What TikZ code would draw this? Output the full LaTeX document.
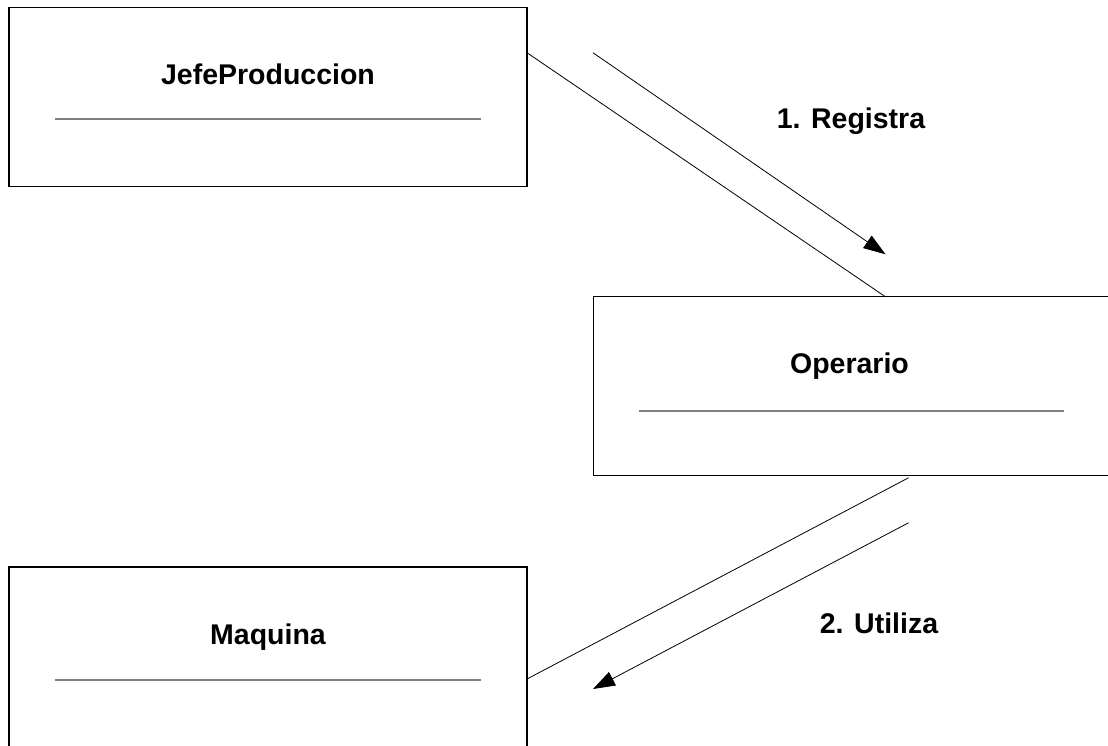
\documentclass[tikz,border=0pt]{standalone}
\usepackage{fontspec}
\setmainfont{Liberation Sans}
\usetikzlibrary{positioning, arrows.meta}
\tikzset{
	clase/.style={
		rectangle,
		draw,
		line width=1.1pt,
		minimum width=518pt,
		minimum height=179pt,
		inner sep=0pt,
		outer sep=0pt,
	},
	titulo/.style={
		font=\bfseries\fontsize{28.5}{34}\selectfont,
		anchor=base,
		inner sep=0pt,
	},
	sep/.style={
		draw=black!50,
		line width=1.6pt,
	},
	assoc/.style={
		line width=0.8pt,
	},
	msg/.style={
		line width=0.8pt,
		-{Triangle[length=22pt,width=15pt]},
	},
}

\begin{document}
\begin{tikzpicture}[x=1pt, y=-1pt]
		\clip (0,0) rectangle (1108,746);
		\node [clase] (jefe) at (268,96.75) {};
		\node [clase] (operario) at (852.5,386.3) {};
		\node [clase, minimum height=184pt] (maquina) at (268,659) {};
		
		\node [titulo] (jefeT) at ([yshift=-77pt]jefe.north) {JefeProduccion};
		\node [titulo] (operarioT) at ([xshift=-3pt,yshift=-77pt]operario.north) {Operario};
		\node [titulo] (maquinaT) at ([yshift=-77pt]maquina.north) {Maquina};
		
		\draw [sep] ([xshift=46pt,yshift=-112pt]jefe.north west) -- ([xshift=-46pt,yshift=-112pt]jefe.north east);
		\draw [sep] ([xshift=45pt,yshift=-114pt]operario.north west) -- ([xshift=-48pt,yshift=-114pt]operario.north east);
		\draw [sep] ([xshift=46pt,yshift=-113pt]maquina.north west) -- ([xshift=-46pt,yshift=-113pt]maquina.north east);
		
		% enlaces
		\draw [assoc] ([yshift=-45.5pt]jefe.north east) -- ([xshift=292pt]operario.north west);
		\draw [assoc] ([xshift=315pt,yshift=-2pt]operario.south west) -- ([yshift=-112pt]maquina.north east);
		
		% mensajes
		\draw [msg] ([xshift=66pt,yshift=-45.5pt]jefe.north east) -- ([xshift=292pt,yshift=42.5pt]operario.north west);
		\node [titulo] (registra) at (851,128.3) {1. Registra};
		\draw [msg] ([xshift=315pt,yshift=-47pt]operario.south west) -- ([xshift=66pt,yshift=-122pt]maquina.north east);
		\node [titulo] (utiliza) at (879,633.3) {2. Utiliza};
	\end{tikzpicture}
\end{document}
